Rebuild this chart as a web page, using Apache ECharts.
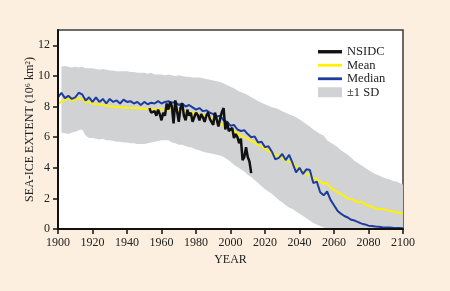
<!DOCTYPE html>
<html>
<head>
<meta charset="utf-8">
<script src="https://cdn.jsdelivr.net/npm/echarts@6/dist/echarts.min.js"></script>
<style>
html,body{margin:0;padding:0;background:#FCEFE0;}
#c{width:450px;height:291px;}
</style>
</head>
<body>
<div id="c"></div>
<script>
// ---- data ----
// model years (2-year steps)
var modelStart = 1900, modelStep = 2;
var meanValues = [
 8.2, 8.3, 8.45, 8.5, 8.4, 8.45, 8.55, 8.5, 8.3, 8.3,
 8.2, 8.15, 8.15, 8.1, 8.05, 8.0, 8.0, 7.95, 7.95, 7.95,
 7.9, 7.9, 7.9, 7.9, 7.85, 7.85, 7.85, 7.8, 7.8, 7.8,
 7.8, 7.8, 7.8, 7.75, 7.75, 7.75, 7.7, 7.7, 7.65, 7.6,
 7.55, 7.5, 7.45, 7.4, 7.3, 7.2, 7.05, 6.9, 6.75, 6.6,
 6.45, 6.4, 6.25, 6.1, 6.0, 5.9, 5.75, 5.65, 5.5, 5.4,
 5.25, 5.1, 5.0, 4.85, 4.75, 4.65, 4.5, 4.4, 4.3, 4.1,
 3.95, 3.75, 3.6, 3.5, 3.35, 3.25, 3.1, 2.95, 3.0, 2.7,
 2.55, 2.4, 2.3, 2.15, 2.0, 1.95, 1.85, 1.75, 1.8, 1.6,
 1.5, 1.45, 1.35, 1.3, 1.3, 1.25, 1.2, 1.15, 1.1, 1.05,
 1.0
];
var medianValues = [
 8.6, 8.9, 8.55, 8.7, 8.5, 8.6, 8.9, 8.8, 8.4, 8.6,
 8.3, 8.6, 8.3, 8.5, 8.2, 8.5, 8.3, 8.4, 8.2, 8.45,
 8.3, 8.35, 8.2, 8.3, 8.1, 8.3, 8.15, 8.25, 8.2, 8.35,
 8.2, 8.3, 8.35, 8.25, 8.3, 8.1, 8.2, 8.0, 8.1, 7.95,
 7.8, 7.9, 7.7, 7.75, 7.6, 7.5, 7.35, 7.4, 7.1, 7.0,
 6.75, 6.8, 6.5, 6.4, 6.45, 6.2, 6.0, 6.05, 5.65, 5.7,
 5.35, 5.4, 5.05, 4.55, 4.65, 4.9, 4.5, 4.85, 4.3, 3.7,
 4.0, 3.6, 3.9, 3.85, 3.0, 3.1, 2.4, 2.2, 2.45, 1.9,
 1.55, 1.2, 1.0, 0.85, 0.75, 0.6, 0.55, 0.45, 0.35, 0.3,
 0.22, 0.2, 0.17, 0.15, 0.12, 0.1, 0.1, 0.08, 0.07, 0.06,
 0.05
];
// ±1 SD band (2-year steps from 1902)
var bandStart = 1902;
var sdUpper = [
 10.6, 10.65, 10.6, 10.55, 10.6, 10.55, 10.6, 10.5, 10.5, 10.5,
 10.45, 10.4, 10.45, 10.4, 10.35, 10.35, 10.3, 10.3, 10.3, 10.3,
 10.25, 10.25, 10.2, 10.2, 10.2, 10.15, 10.2, 10.1, 10.1, 10.1,
 10.05, 10.1, 10.05, 10.0, 10.05, 10.0, 9.95, 9.95, 9.9, 9.9,
 9.9, 9.85, 9.8, 9.75, 9.7, 9.65, 9.6, 9.5, 9.4, 9.3,
 9.2, 9.05, 8.95, 8.85, 8.75, 8.6, 8.5, 8.35, 8.25, 8.15,
 8.05, 7.95, 7.9, 7.8, 7.7, 7.6, 7.5, 7.4, 7.3, 7.15,
 7.0, 6.85, 6.7, 6.5, 6.35, 6.2, 6.1, 5.8, 5.65, 5.5,
 5.35, 5.15, 5.0, 4.85, 4.65, 4.45, 4.3, 4.15, 4.0, 3.85,
 3.7, 3.6, 3.5, 3.4, 3.3, 3.25, 3.15, 3.1, 3.0, 2.9
];
var sdLower = [
 6.3, 6.25, 6.2, 6.3, 6.35, 6.45, 6.5, 6.1, 5.95, 5.95,
 5.9, 5.85, 5.9, 5.8, 5.8, 5.75, 5.7, 5.7, 5.65, 5.65,
 5.6, 5.6, 5.55, 5.55, 5.55, 5.6, 5.65, 5.7, 5.75, 5.8,
 5.8, 5.8, 5.65, 5.6, 5.5, 5.5, 5.4, 5.35, 5.3, 5.2,
 5.15, 5.05, 5.0, 4.95, 4.9, 4.85, 4.8, 4.7, 4.55, 4.4,
 4.2, 4.05, 3.9, 3.75, 3.55, 3.4, 3.2, 3.0, 2.8, 2.6,
 2.45, 2.3, 2.1, 1.9, 1.75, 1.55, 1.4, 1.3, 1.15, 1.0,
 0.85, 0.7, 0.55, 0.4, 0.3, 0.2, 0.1, 0, 0, 0,
 0, 0, 0, 0, 0, 0, 0, 0, 0, 0,
 0, 0, 0, 0, 0, 0, 0, 0, 0, 0
];
// NSIDC observations (yearly from 1953)
var nsidcStart = 1953;
var nsidcValues = [
 7.9, 7.6, 7.5, 7.7, 7.4, 7.8, 7.5, 7.1, 7.6, 7.4,
 8.2, 7.8, 8.3, 8.0, 6.9, 8.4, 8.4, 7.0, 7.9, 8.2,
 7.4, 7.1, 7.8, 7.4, 7.6, 7.0, 7.3, 7.6, 7.45, 7.1,
 7.5, 7.3, 7.0, 7.4, 7.6, 7.2, 7.1, 6.8, 7.6, 7.5,
 6.7, 7.2, 7.65, 7.9, 6.5, 7.0, 6.4, 6.3, 6.6, 5.95,
 6.2, 6.0, 5.6, 5.9, 4.5, 4.7, 5.35, 4.7, 4.4, 3.65
];
var yTicks = [0, 2, 4, 6, 8, 10, 12];
var xTicks = [1900, 1920, 1940, 1960, 1980, 2000, 2020, 2040, 2060, 2080, 2100];
var seriesNames = ['NSIDC', 'Mean', 'Median', '±1 SD'];

// ---- build ----
function pairs(start, step, vals) {
  return vals.map(function (v, i) { return [start + i * step, v]; });
}
// value first, year second, so the stack runs on the value dimension
function valueYearPairs(start, step, vals) {
  return vals.map(function (v, i) { return [v, start + i * step]; });
}
var bandDiff = sdUpper.map(function (u, i) { return +(u - sdLower[i]).toFixed(3); });

var serif = '"Liberation Serif", "DejaVu Serif", serif';
var txt = '#222';
var lineIcon = 'path://M0,0M24,10M0,3.6L24,3.6L24,6.4L0,6.4Z';
var lineIconBold = 'path://M0,0M24,10M0,3.3L24,3.3L24,6.7L0,6.7Z';
var plainNum = function (v) { return String(v); };

var chart = echarts.init(document.getElementById('c'), null, {renderer: 'canvas'});
chart.setOption({
  animation: false,
  backgroundColor: '#FCEFE0',
  textStyle: {fontFamily: serif},
  grid: {
    left: 58, right: 47, top: 30, bottom: 62,
    show: true, backgroundColor: '#ffffff',
    borderColor: '#3c3c3c', borderWidth: 1.5
  },
  legend: {
    orient: 'vertical', left: 313, top: 40,
    itemWidth: 24, itemHeight: 10, itemGap: 0,
    textStyle: {fontFamily: serif, fontSize: 12.5, color: txt, lineHeight: 13.5},
    data: [
      {name: seriesNames[0], icon: lineIconBold},
      {name: seriesNames[1], icon: lineIcon},
      {name: seriesNames[2], icon: lineIcon},
      {name: seriesNames[3], icon: 'rect'}
    ]
  },
  xAxis: {
    type: 'value', min: 1900, max: 2100, interval: 20, z: 10,
    name: 'YEAR', nameLocation: 'middle', nameGap: 25, nameMoveOverlap: false,
    nameTextStyle: {fontFamily: serif, fontSize: 12, color: txt},
    axisLine: {show: true, onZero: false, lineStyle: {color: '#111', width: 2}},
    axisTick: {show: true, length: 5, lineStyle: {color: '#111', width: 1.5}, customValues: xTicks},
    axisLabel: {fontFamily: serif, fontSize: 12, color: txt, margin: 8, customValues: xTicks, formatter: plainNum},
    splitLine: {show: false}
  },
  yAxis: {
    type: 'value', min: 0, max: 13, interval: 2, z: 10,
    name: 'SEA-ICE EXTENT (10\u2076 km\u00B2)', nameLocation: 'middle', nameGap: 22, nameMoveOverlap: false,
    nameTextStyle: {fontFamily: serif, fontSize: 12, color: txt},
    axisLine: {show: true, lineStyle: {color: '#111', width: 2}},
    axisTick: {show: true, length: 5, lineStyle: {color: '#111', width: 1.5}, customValues: yTicks},
    axisLabel: {fontFamily: serif, fontSize: 12, color: txt, margin: 8, customValues: yTicks, formatter: plainNum},
    splitLine: {show: false}
  },
  series: [
    {
      name: 'bandBase', type: 'line', stack: 'sd', symbol: 'none',
      encode: {x: 1, y: 0},
      data: valueYearPairs(bandStart, modelStep, sdLower),
      lineStyle: {width: 0, opacity: 0}, silent: true, z: 1
    },
    {
      name: seriesNames[3], type: 'line', stack: 'sd', symbol: 'none',
      encode: {x: 1, y: 0},
      data: valueYearPairs(bandStart, modelStep, bandDiff),
      color: '#D1D2D4',
      lineStyle: {width: 0, opacity: 0},
      areaStyle: {color: '#D1D2D4', opacity: 1}, z: 1
    },
    {
      name: seriesNames[1], type: 'line', symbol: 'none',
      data: pairs(modelStart, modelStep, meanValues),
      color: '#FFF200', lineStyle: {color: '#FFF200', width: 2}, z: 3
    },
    {
      name: seriesNames[2], type: 'line', symbol: 'none',
      data: pairs(modelStart, modelStep, medianValues),
      color: '#1E3C9C', lineStyle: {color: '#1E3C9C', width: 2}, z: 4
    },
    {
      name: seriesNames[0], type: 'line', symbol: 'none',
      data: pairs(nsidcStart, 1, nsidcValues),
      color: '#111111', lineStyle: {color: '#111111', width: 2.5}, z: 5
    }
  ]
});
</script>
</body>
</html>
